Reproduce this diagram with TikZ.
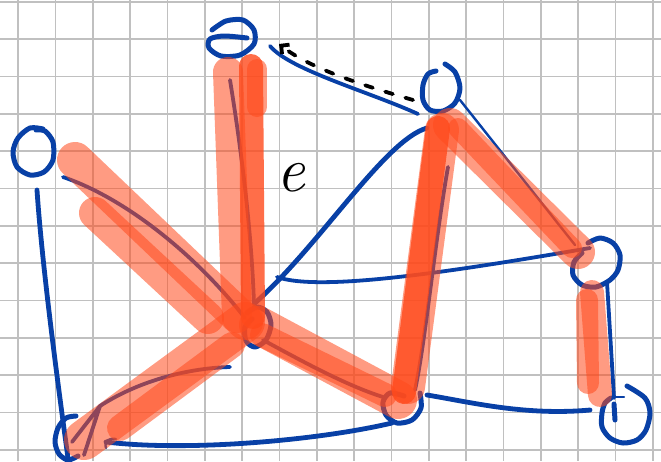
\documentclass[tikz,border=0pt]{standalone}
\usetikzlibrary{arrows.meta,shapes.geometric}
\definecolor{pen}{RGB}{8,64,166}
\definecolor{hlc}{RGB}{255,74,28}
\definecolor{gridc}{RGB}{192,192,192}
\tikzset{
  nd/.style={ellipse, inner sep=0pt},
  bl/.style={draw=pen, line width=4.8pt, line cap=round, line join=round},
  bm/.style={draw=pen, line width=3.8pt, line cap=round, line join=round},
  bt/.style={draw=pen, line width=2.4pt, line cap=round},
  hl/.style={draw=hlc, draw opacity=0.55, line cap=round, line join=round},
  hld/.style={draw=hlc, draw opacity=0.8, line cap=round, line join=round},
  loopln/.style={draw=pen, line width=5pt, line cap=round, line join=round},
  dsh/.style={draw=black, line width=3.8pt, dash pattern=on 8pt off 13pt, line cap=round},
}
\begin{document}
\begin{tikzpicture}[x=1pt,y=-1pt]
\useasboundingbox (0,0) rectangle (661,461);
\fill[white] (0,0) rectangle (661,461);
\foreach \k in {0,...,17} \draw[gridc, line width=1.6pt] ({18+37.35*\k},0) -- ({18+37.35*\k},461);
\foreach \k in {0,...,12} \draw[gridc, line width=1.6pt] (0,{1.7+37.35*\k}) -- (661,{1.7+37.35*\k});

% nodes
\node[nd, minimum width=46pt, minimum height=36pt] (A) at (231,38) {};
\node[nd, minimum width=38pt, minimum height=48pt] (B) at (441,88) {};
\node[nd, minimum width=40pt, minimum height=48pt] (C) at (33,151) {};
\node[nd, minimum width=28pt, minimum height=40pt] (D) at (257,327) {};
\node[nd, minimum width=40pt, minimum height=36pt] (E) at (402,407) {};
\node[nd, minimum width=52pt, minimum height=50pt] (F) at (596,262) {};
\node[nd, minimum width=50pt, minimum height=58pt] (G) at (626,414) {};
\node[nd, minimum width=24pt, minimum height=46pt] (H) at (66,437) {};

% blue edges
\draw[bl] ([shift={(4,39)}]C.center) .. controls (42,265) and (58,385) .. ([shift={(2,21)}]H.center);
\draw[bl] ([shift={(40,5)}]H.center) .. controls (190,452) and (320,440) .. ([shift={(-10,16)}]E.center);
\draw[bl] ([shift={(25,-12)}]E.center) .. controls (470,402) and (525,416) .. ([shift={(-36,-4)}]G.center);
\draw[bl] ([shift={(-2,-24)}]D.center) .. controls (320,245) and (385,140) .. ([shift={(-14,40)}]B.center);
\draw[bm] ([shift={(20,-50)}]D.center) .. controls (320,292) and (450,272) .. ([shift={(-6,-14)}]F.center);
\draw[bm] ([shift={(39,8)}]A.center) .. controls (290,70) and (370,92) .. ([shift={(-23,26)}]B.center);
\draw[bt] ([shift={(19,12)}]B.center) -- ([shift={(-21,-17)}]F.center);
\draw[bm] ([shift={(11,20)}]F.center) -- ([shift={(-12,-16)}]G.center);
\draw[bm] ([shift={(7,79)}]B.center) .. controls (435,240) and (425,345) .. ([shift={(13,-17)}]E.center);
\draw[bm] ([shift={(-1,42)}]A.center) .. controls (243,160) and (252,240) .. ([shift={(-3,-22)}]D.center);
\draw[bm] ([shift={(30,26)}]C.center) .. controls (130,200) and (200,260) .. ([shift={(-12,-9)}]D.center);
\draw[bm] ([shift={(6,5)}]H.center) -- ([shift={(34,-31)}]H.center) -- ([shift={(18,18)}]H.center);
\draw[bm] ([shift={(34,-31)}]H.center) .. controls (140,380) and (190,368) .. ([shift={(-27,40)}]D.center);
\draw[bm] ([shift={(6,13)}]D.center) .. controls (300,360) and (345,385) .. ([shift={(-19,-10)}]E.center);

% node loops
\draw[loopln] plot[smooth] coordinates {(212,30) (226,21) (243,20) (254,30) (254,44) (240,55) (221,56) (209,48) (210,39) (224,36) (247,38)};
\draw[loopln] plot[smooth] coordinates {(445,64) (455,72) (460,88) (455,103) (443,111) (430,110) (423,100) (423,85) (428,74) (436,71)};
\draw[loopln] plot[smooth] coordinates {(43,129) (30,128) (18,138) (13,152) (17,167) (30,175) (44,172) (53,160) (53,142) (45,131) (36,130)};
\draw[loopln] plot[smooth] coordinates {(247,313) (257,307) (267,312) (271,325) (266,340) (255,347) (246,341) (245,327) (252,319)};
\draw[loopln] plot[smooth] coordinates {(404,396) (390,393) (383,402) (386,415) (397,423) (412,420) (421,408) (420,393)};
\draw[loopln] plot[smooth] coordinates {(588,243) (600,238) (613,243) (620,255) (618,270) (610,280) (596,287) (582,285) (573,275) (574,262) (582,253)};
\draw[loopln] plot[smooth] coordinates {(627,386) (645,398) (650,413) (646,430) (637,440) (623,443) (610,438) (602,427) (602,413) (605,403) (611,398)};
\draw[loopln] (614,404) -- (615,420);
\draw[bt] (613,397) -- (624,397);
\draw[loopln] plot[smooth] coordinates {(76,416) (66,418) (58,428) (55,442) (59,454) (68,460) (78,456)};
\draw[bt] (106,448) .. controls (104,441) and (108,438) .. (116,439);

% orange highlights
\draw[hl, line width=30pt] ([shift={(-3,34)}]A.center) -- ([shift={(-20,-9)}]D.center);
\draw[hld, line width=24pt] ([shift={(20,28)}]A.center) -- ([shift={(-4,-10)}]D.center);
\draw[hl, line width=20pt] ([shift={(26,31)}]A.center) -- ([shift={(26,69)}]A.center);
\draw[hl, line width=36pt] ([shift={(42,9)}]C.center) -- ([shift={(-12,-5)}]D.center);
\draw[hl, line width=32pt] ([shift={(62,62)}]C.center) -- ([shift={(-49,-9)}]D.center);
\draw[hl, line width=40pt] ([shift={(18,3)}]H.center) -- ([shift={(-12,-5)}]D.center);
\draw[hl, line width=26pt] ([shift={(54,-9)}]H.center) -- ([shift={(-25,18)}]D.center);
\draw[hl, line width=38pt] ([shift={(1,-2)}]D.center) -- ([shift={(-4,-7)}]E.center);
\draw[hl, line width=24pt] ([shift={(5,8)}]D.center) -- ([shift={(-17,-12)}]E.center);
\draw[hl, line width=34pt] ([shift={(1,42)}]B.center) -- ([shift={(6,-20)}]E.center);
\draw[hld, line width=24pt] ([shift={(-3,40)}]B.center) -- ([shift={(2,-15)}]E.center);
\draw[hl, line width=34pt] ([shift={(9,37)}]B.center) -- ([shift={(-18,-10)}]F.center);
\draw[hl, line width=20pt] ([shift={(17,40)}]B.center) -- ([shift={(-24,-14)}]F.center);
\draw[hl, line width=24pt] ([shift={(-4,30)}]F.center) -- ([shift={(-26,-19)}]G.center);
\draw[hl, line width=22pt] ([shift={(-9,38)}]F.center) -- ([shift={(-38,-31)}]G.center);

% dashed arrow and label
\draw[dsh, -{Straight Barb[length=6pt,width=12pt]}] ([shift={(-28,12)}]B.center) .. controls (372,88) and (312,70) .. ([shift={(48,6)}]A.center);
\node[font=\fontsize{64}{64}\selectfont\itshape, inner sep=0pt] (lbl) at (291,178) {e};
\end{tikzpicture}
\end{document}
